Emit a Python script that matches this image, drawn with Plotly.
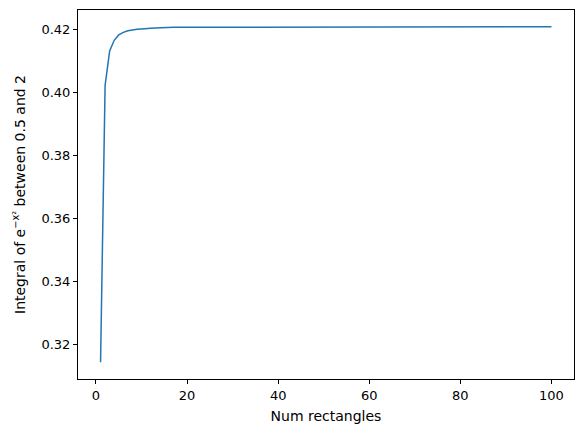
import plotly.graph_objects as go

num_rectangles = list(range(1, 101))
integral_values = [
    0.3144, 0.4022, 0.4131, 0.4165, 0.4182, 0.4190, 0.4195, 0.4198, 0.4200, 0.4201,
    0.4203, 0.4203, 0.4204, 0.4205, 0.4205, 0.4205, 0.4206, 0.4206, 0.4206, 0.4206,
    0.4207, 0.4207, 0.4207, 0.4207, 0.4207, 0.4207, 0.4207, 0.4207, 0.4207, 0.4207,
    0.4207, 0.4207, 0.4208, 0.4208, 0.4208, 0.4208, 0.4208, 0.4208, 0.4208, 0.4208,
    0.4208, 0.4208, 0.4208, 0.4208, 0.4208, 0.4208, 0.4208, 0.4208, 0.4208, 0.4208,
    0.4208, 0.4208, 0.4208, 0.4208, 0.4208, 0.4208, 0.4208, 0.4208, 0.4208, 0.4208,
    0.4208, 0.4208, 0.4208, 0.4208, 0.4208, 0.4208, 0.4208, 0.4208, 0.4208, 0.4208,
    0.4208, 0.4208, 0.4208, 0.4208, 0.4208, 0.4208, 0.4208, 0.4208, 0.4208, 0.4208,
    0.4208, 0.4208, 0.4208, 0.4208, 0.4208, 0.4208, 0.4208, 0.4208, 0.4208, 0.4208,
    0.4208, 0.4208, 0.4208, 0.4208, 0.4208, 0.4208, 0.4208, 0.4208, 0.4208, 0.4208,
]
x_ticks = [0, 20, 40, 60, 80, 100]
y_ticks = [0.32, 0.34, 0.36, 0.38, 0.40, 0.42]

fig = go.Figure()
fig.add_trace(go.Scatter(x=num_rectangles, y=integral_values, mode="lines",
                         line=dict(color="#1f77b4", width=1.5)))

axis_common = dict(showgrid=False, zeroline=False, showline=True, linecolor="black",
                   linewidth=1, mirror=True, ticks="outside", ticklen=4,
                   tickcolor="black", tickwidth=1, automargin=False,
                   tickfont=dict(family="DejaVu Sans", size=13, color="black"))
title_font = dict(family="DejaVu Sans", size=14, color="black")

fig.update_layout(
    width=583, height=432,
    margin=dict(l=78, r=9, t=10, b=53, pad=0),
    plot_bgcolor="white", paper_bgcolor="white",
    showlegend=False,
    font=dict(family="DejaVu Sans", size=13, color="black"),
    xaxis=dict(range=[-3.95, 104.95], tickvals=x_ticks,
               title=dict(text="Num rectangles", standoff=9, font=title_font),
               **axis_common),
    yaxis=dict(range=[0.3091, 0.4261], tickvals=y_ticks, tickformat=".2f",
               title=dict(text="Integral of e<sup>−x²</sup> between 0.5 and 2",
                          standoff=12, font=title_font),
               **axis_common),
)

fig.write_html("out.html", config={"displayModeBar": False},
               post_script="document.body.style.margin='0';")
